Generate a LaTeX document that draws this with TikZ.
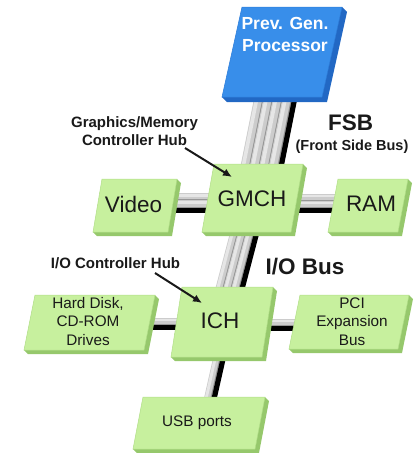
\documentclass[tikz,border=0pt]{standalone}
\usepackage{fontspec}
\setmainfont{Liberation Sans}
\usetikzlibrary{calc,arrows.meta}
\pgfdeclarelayer{bg}
\pgfsetlayers{bg,main}

\definecolor{facegreen}{RGB}{199,240,158}
\definecolor{sidegreen}{RGB}{150,200,108}
\definecolor{faceblue}{RGB}{56,142,234}
\definecolor{sideblue}{RGB}{34,104,196}
\definecolor{busgray}{RGB}{204,204,204}
\definecolor{buslight}{RGB}{230,230,230}
\definecolor{busseam}{RGB}{150,150,150}
\definecolor{ink}{RGB}{25,25,25}

% slanted slab: #1 top-left x, #2 top y, #3 width, #4 height,
% #5 slant (shift of the bottom edge to the left), #6 depth, #7 face, #8 side
\newcommand\slab[8]{%
  \fill[#8] (#1+#3,#2) -- ++(#6,#6) -- (#1+#3-#5+#6,#2+#4+#6)
     -- (#1-#5+#6,#2+#4+#6) -- (#1-#5,#2+#4) -- cycle;
  \filldraw[fill=#7,draw=#8!45!#7,line width=0.5pt]
     (#1,#2) -- (#1+#3,#2) -- (#1+#3-#5,#2+#4) -- (#1-#5,#2+#4) -- cycle;
}

% ribbon bus running roughly vertically: #1,#2 end nodes, #3 strands,
% #4 strand width, #5 offset of the left edge
\newcommand\vbus[5]{%
  \begin{pgfonlayer}{bg}
  \foreach \i in {1,...,#3}{
    \pgfmathsetmacro\ma{#5+(\i-0.5)*#4}
    \pgfmathsetmacro\mh{#5+(\i-0.72)*#4}
    \pgfmathsetmacro\me{#5+\i*#4-0.6}
    \draw[busgray,line width=#4pt] ($(#1)+(\ma,0)$) -- ($(#2)+(\ma,0)$);
    \draw[buslight,line width=0.38*#4pt] ($(#1)+(\mh,0)$) -- ($(#2)+(\mh,0)$);
    \draw[busseam,line width=1.1pt] ($(#1)+(\me,0)$) -- ($(#2)+(\me,0)$);
  }
  \pgfmathsetmacro\mk{#5+#3*#4+2.6}
  \draw[black,line width=5.2pt] ($(#1)+(\mk,0)$) -- ($(#2)+(\mk,0)$);
  \end{pgfonlayer}}

% ribbon bus running horizontally: same arguments, offset of the top edge
\newcommand\hbus[5]{%
  \begin{pgfonlayer}{bg}
  \foreach \i in {1,...,#3}{
    \pgfmathsetmacro\ma{#5+(\i-0.5)*#4}
    \pgfmathsetmacro\mh{#5+(\i-0.72)*#4}
    \pgfmathsetmacro\me{#5+\i*#4-0.6}
    \draw[busgray,line width=#4pt] ($(#1)+(0,\ma)$) -- ($(#2)+(0,\ma)$);
    \draw[buslight,line width=0.38*#4pt] ($(#1)+(0,\mh)$) -- ($(#2)+(0,\mh)$);
    \draw[busseam,line width=1.1pt] ($(#1)+(0,\me)$) -- ($(#2)+(0,\me)$);
  }
  \pgfmathsetmacro\mk{#5+#3*#4+2.6}
  \draw[black,line width=5.2pt] ($(#1)+(0,\mk)$) -- ($(#2)+(0,\mk)$);
  \end{pgfonlayer}}

\tikzset{
  boxname/.style={inner sep=0pt,text=ink,font=\fontsize{22.5}{27}\selectfont},
  boxtext/.style={inner sep=0pt,text=ink,align=center,font=\fontsize{15.3}{18.5}\selectfont},
  cputext/.style={inner sep=0pt,text=white,align=center,font=\bfseries\fontsize{17.5}{22}\selectfont},
  hublabel/.style={inner sep=0pt,text=ink,align=center,font=\bfseries\fontsize{15}{18}\selectfont},
  buslabel/.style={inner sep=0pt,text=ink,font=\bfseries\fontsize{22.5}{27}\selectfont},
  pointer/.style={draw=ink,line width=2pt,-{Latex[length=9pt,width=8pt]}},
}

\begin{document}
\begin{tikzpicture}[x=1pt,y=-1pt]
\useasboundingbox (0,0) rectangle (413,453);

% processor and hubs
\slab{242}{7}{100}{90}{20}{5}{faceblue}{sideblue}
\slab{214}{164}{89}{68}{12}{4}{facegreen}{sidegreen}
\slab{102}{179}{75}{53}{9}{4}{facegreen}{sidegreen}
\slab{338}{179}{70}{53}{10}{4}{facegreen}{sidegreen}
\slab{182}{287}{91}{70}{11}{4}{facegreen}{sidegreen}
\slab{35}{295}{120}{55}{11}{4}{facegreen}{sidegreen}
\slab{300}{295}{109}{54}{11}{4}{facegreen}{sidegreen}
\slab{143}{397}{122}{52}{10}{4}{facegreen}{sidegreen}

\node[cputext] (proc) at (285,34) {Prev. Gen.\\Processor};
\node[boxname] (gmch) at (252,199) {GMCH};
\node[boxname] (video) at (133.5,204) {Video};
\node[boxname] (ram) at (371,204) {RAM};
\node[boxname] (ich) at (220,321) {ICH};
\node[boxtext] (hdd) at (88,321.5) {Hard Disk,\\CD-ROM\\Drives};
\node[boxtext] (pci) at (352,321.5) {PCI\\Expansion\\Bus};
\node[boxtext] (usb) at (197,423) {USB ports};

% buses
\vbus{proc}{gmch}{4}{9.5}{-18}
\vbus{gmch}{ich}{3}{8}{-13}
\hbus{video}{video -| gmch}{2}{7.5}{-11}
\hbus{ram -| gmch}{ram}{2}{7}{-10}
\hbus{hdd}{hdd -| ich}{1}{7}{-3.5}
\hbus{ich}{ich -| pci}{1}{7}{-2}
\vbus{ich}{usb}{1}{7.5}{1.5}

% labels
\node[hublabel] (gmlabel) at (134.5,131) {Graphics/Memory\\Controller Hub};
\node[buslabel] (fsb) at (350.5,123) {FSB};
\node[hublabel,font=\bfseries\fontsize{14.5}{18}\selectfont] (fsbfull) at (352,147) {(Front Side Bus)};
\node[buslabel] (iobus) at (305,267) {I/O Bus};
\node[hublabel] (ichlabel) at (115.5,263) {I/O Controller Hub};

\coordinate (gmfrom) at (185,148);
\coordinate (gmto) at (232,177);
\coordinate (ichfrom) at (155,273);
\coordinate (ichto) at (202,303);
\draw[pointer] (gmfrom) -- (gmto);
\draw[pointer] (ichfrom) -- (ichto);
\end{tikzpicture}
\end{document}
